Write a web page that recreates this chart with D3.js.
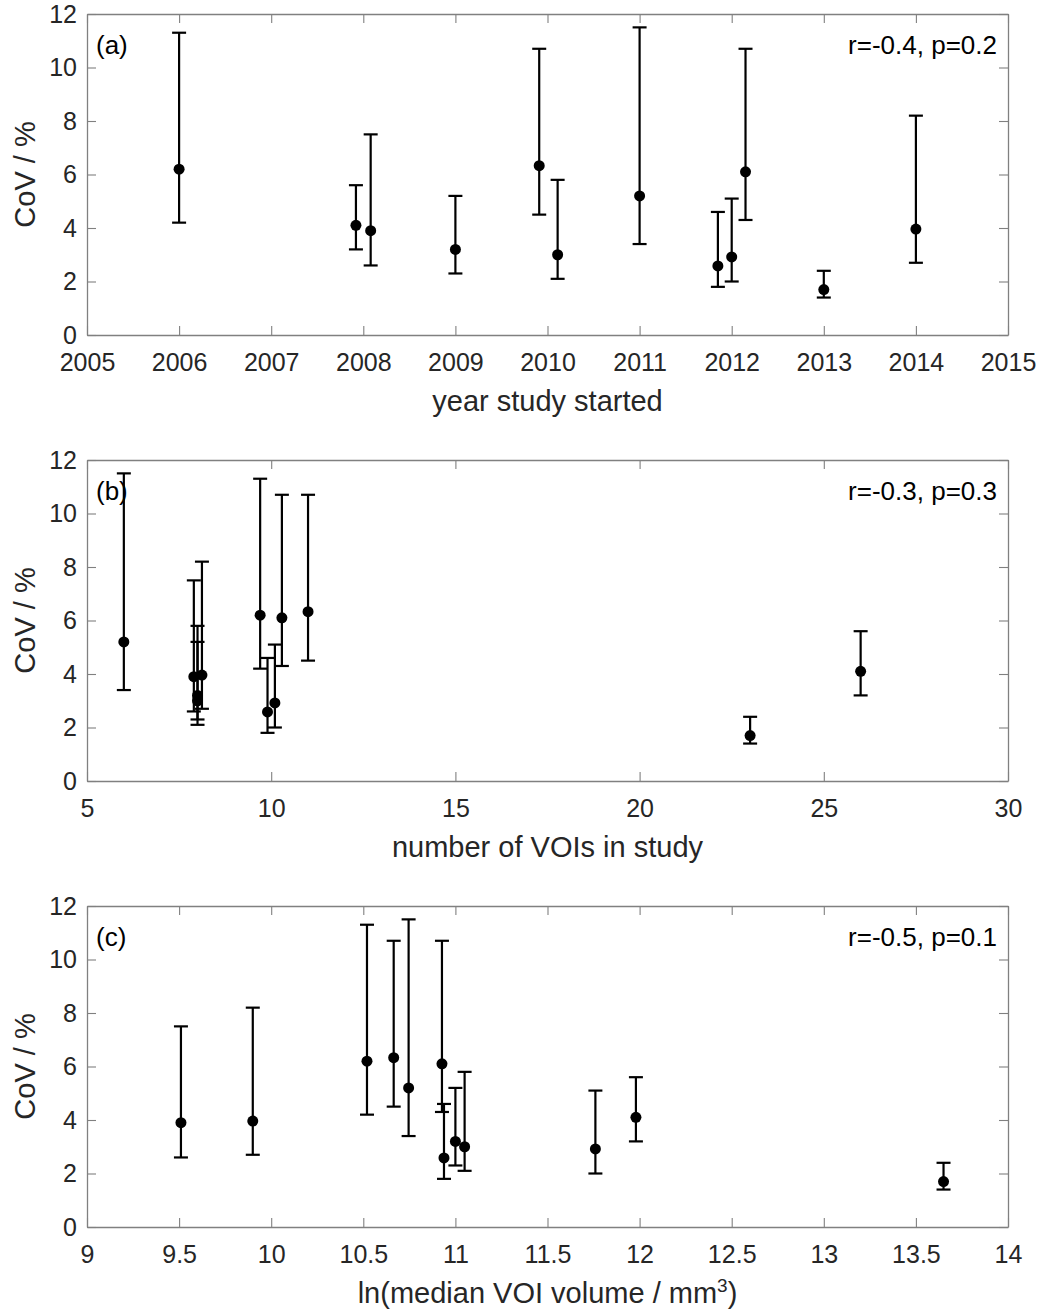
<!DOCTYPE html>
<html>
<head>
<meta charset="utf-8">
<script src="https://cdn.jsdelivr.net/npm/d3@7"></script>
<style>
  body { margin: 0; background: #fff; }
  text { font-family: "Liberation Sans", Arial, sans-serif; }
</style>
</head>
<body>
<div id="chart"></div>
<script>
// one entry per study, same order in every array
var cov = [6.2, 4.1, 3.9, 3.2, 6.33, 3.0, 5.2, 2.58, 2.92, 6.1, 1.7, 3.96];
var covLow = [4.2, 3.2, 2.6, 2.3, 4.5, 2.1, 3.4, 1.8, 2.0, 4.3, 1.4, 2.7];
var covHigh = [11.3, 5.6, 7.5, 5.2, 10.7, 5.8, 11.5, 4.6, 5.1, 10.7, 2.4, 8.2];
var yearStarted = [2006, 2007.92, 2008.08, 2009, 2009.91, 2010.11, 2011, 2011.85, 2012.0, 2012.15, 2013, 2014];
var numVOIs = [9.7, 26, 7.9, 8.0, 11, 8.0, 6, 9.9, 10.1, 10.29, 23, 8.12];
var lnVolume = [10.52, 11.98, 9.51, 11.0, 10.665, 11.05, 10.746, 10.938, 11.76, 10.927, 13.65, 9.9];

var yTicks = [0, 2, 4, 6, 8, 10, 12];
var xTicksA = [2005, 2006, 2007, 2008, 2009, 2010, 2011, 2012, 2013, 2014, 2015];
var xTicksB = [5, 10, 15, 20, 25, 30];
var xTicksC = [9, 9.5, 10, 10.5, 11, 11.5, 12, 12.5, 13, 13.5, 14];

var panels = [
  {tag: "(a)", stat: "r=-0.4, p=0.2", x: yearStarted, domain: [2005, 2015], ticks: xTicksA, label: "year study started"},
  {tag: "(b)", stat: "r=-0.3, p=0.3", x: numVOIs, domain: [5, 30], ticks: xTicksB, label: "number of VOIs in study"},
  {tag: "(c)", stat: "r=-0.5, p=0.1", x: lnVolume, domain: [9, 14], ticks: xTicksC, label: null}
];

var W = 1048, H = 1314;
var left = 87, plotW = 921, plotH = 321;
var tops = [14, 460, 906];
var axisGray = "#808080", textGray = "#262626";

var svg = d3.select("#chart").append("svg")
    .attr("width", W)
    .attr("height", H);

panels.forEach(function (p, k) {
  var g = svg.append("g").attr("transform", "translate(" + left + "," + tops[k] + ")");

  var x = d3.scaleLinear().domain(p.domain).range([0, plotW]);
  var y = d3.scaleLinear().domain([0, 12]).range([plotH, 0]);

  // box with inward ticks on all four sides
  var axes = [
    {a: d3.axisBottom(x).tickValues(p.ticks), t: "translate(0," + plotH + ")", lab: true, pad: 18},
    {a: d3.axisTop(x).tickValues(p.ticks), t: "translate(0,0)", lab: false, pad: 10},
    {a: d3.axisLeft(y).tickValues(yTicks), t: "translate(0,0)", lab: true, pad: 10},
    {a: d3.axisRight(y).tickValues(yTicks), t: "translate(" + plotW + ",0)", lab: false, pad: 10}
  ];
  axes.forEach(function (ax) {
    var ag = g.append("g")
        .attr("transform", ax.t)
        .call(ax.a.tickSizeInner(-9).tickSizeOuter(0).tickPadding(ax.pad).tickFormat(d3.format("")));
    ag.select(".domain").attr("stroke", axisGray).attr("stroke-width", 1.3);
    ag.selectAll(".tick line").attr("stroke", axisGray).attr("stroke-width", 1.1);
    ag.selectAll(".tick text")
        .attr("fill", textGray)
        .style("font-size", "25px");
    if (!ax.lab) ag.selectAll(".tick text").remove();
  });

  // error bars
  var capW = 7;
  var bars = g.append("g").selectAll("g")
      .data(d3.range(cov.length))
      .join("g")
      .attr("stroke", "#000")
      .attr("stroke-width", 2.2);
  bars.append("line")
      .attr("x1", function (i) { return x(p.x[i]); })
      .attr("x2", function (i) { return x(p.x[i]); })
      .attr("y1", function (i) { return y(covLow[i]); })
      .attr("y2", function (i) { return y(covHigh[i]); });
  bars.append("line")
      .attr("x1", function (i) { return x(p.x[i]) - capW; })
      .attr("x2", function (i) { return x(p.x[i]) + capW; })
      .attr("y1", function (i) { return y(covHigh[i]); })
      .attr("y2", function (i) { return y(covHigh[i]); });
  bars.append("line")
      .attr("x1", function (i) { return x(p.x[i]) - capW; })
      .attr("x2", function (i) { return x(p.x[i]) + capW; })
      .attr("y1", function (i) { return y(covLow[i]); })
      .attr("y2", function (i) { return y(covLow[i]); });
  bars.append("circle")
      .attr("cx", function (i) { return x(p.x[i]); })
      .attr("cy", function (i) { return y(cov[i]); })
      .attr("r", 5.5)
      .attr("stroke", "none")
      .attr("fill", "#000");

  // annotations
  g.append("text")
      .attr("x", 9)
      .attr("y", 40)
      .style("font-size", "26px")
      .text(p.tag);
  g.append("text")
      .attr("x", plotW - 11)
      .attr("y", 40)
      .attr("text-anchor", "end")
      .style("font-size", "26px")
      .text(p.stat);

  // axis labels
  g.append("text")
      .attr("transform", "translate(-52," + plotH / 2 + ") rotate(-90)")
      .attr("text-anchor", "middle")
      .attr("fill", textGray)
      .style("font-size", "29px")
      .text("CoV / %");

  var xl = g.append("text")
      .attr("x", plotW / 2)
      .attr("y", plotH + 76)
      .attr("text-anchor", "middle")
      .attr("fill", textGray)
      .style("font-size", "29px");
  if (p.label) {
    xl.text(p.label);
  } else {
    xl.append("tspan").text("ln(median VOI volume / mm");
    xl.append("tspan").attr("dy", -11).style("font-size", "19px").text("3");
    xl.append("tspan").attr("dy", 11).text(")");
  }
});
</script>
</body>
</html>
